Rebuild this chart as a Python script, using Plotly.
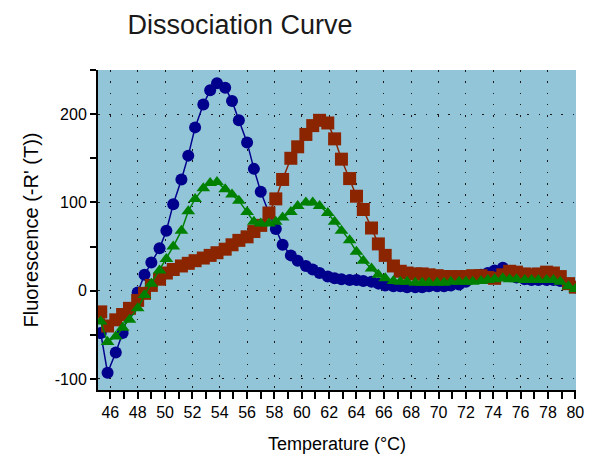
import plotly.graph_objects as go

# Temperature (°C) readings
temps = [45.3, 45.8, 46.4, 46.9, 47.4, 48.0, 48.5, 49.0, 49.6, 50.1,
         50.6, 51.2, 51.7, 52.2, 52.8, 53.3, 53.8, 54.4, 54.9, 55.4,
         56.0, 56.5, 57.0, 57.6, 58.1, 58.6, 59.2, 59.7, 60.3, 60.8,
         61.3, 61.9, 62.4, 62.9, 63.5, 64.0, 64.5, 65.1, 65.6, 66.1,
         66.7, 67.2, 67.7, 68.3, 68.8, 69.3, 69.9, 70.4, 70.9, 71.5,
         72.0, 72.5, 73.1, 73.6, 74.1, 74.7, 75.2, 75.7, 76.3, 76.8,
         77.3, 77.9, 78.4, 78.9, 79.5, 80.0]

blue_vals = [-48, -93, -70, -48, -22, -2, 18, 32, 48, 68,
             98, 126, 153, 185, 211, 227, 235, 230, 215, 193,
             168, 138, 112, 88, 70, 52, 40, 34, 28, 24,
             20, 16, 14, 13, 12, 12, 11, 10, 8, 6,
             5, 5, 4, 4, 4, 5, 5, 5, 6, 7,
             10, 14, 18, 20, 23, 26, 20, 15, 13, 12,
             12, 12, 12, 11, 8, 4]

red_vals = [-24, -40, -33, -27, -20, -11, -3, 6, 13, 20,
            24, 28, 31, 34, 37, 40, 43, 47, 52, 57,
            61, 67, 74, 88, 104, 126, 150, 163, 177, 187,
            193, 190, 172, 149, 127, 107, 92, 71, 53, 40,
            28, 22, 20, 19, 19, 18, 17, 16, 16, 16,
            16, 17, 17, 15, 14, 18, 22, 21, 19, 18,
            19, 21, 20, 16, 8, 4]

green_vals = [-35, -58, -52, -42, -33, -20, -5, 8, 23, 36,
              50, 68, 90, 104, 116, 122, 123, 115, 109, 102,
              89, 78, 76, 76, 78, 83, 89, 96, 100, 100,
              96, 88, 78, 68, 57, 44, 34, 25, 18, 14,
              11, 10, 10, 9, 9, 9, 9, 9, 10, 10,
              10, 10, 11, 12, 13, 14, 13, 13, 12, 12,
              12, 12, 12, 10, 5, 2]

x_ticks = [46, 48, 50, 52, 54, 56, 58, 60, 62, 64, 66, 68, 70, 72, 74, 76, 78, 80]
y_ticks = [-100, 0, 100, 200]

BLUE = "#00008C"
RED = "#8B2500"
GREEN = "#008000"

fig = go.Figure()
fig.add_trace(go.Scatter(x=temps, y=blue_vals, mode="lines+markers",
                         line=dict(color=BLUE, width=1.5),
                         marker=dict(symbol="circle", size=12, color=BLUE),
                         showlegend=False))
fig.add_trace(go.Scatter(x=temps, y=red_vals, mode="lines+markers",
                         line=dict(color=RED, width=1.5),
                         marker=dict(symbol="square", size=13, color=RED),
                         showlegend=False))
fig.add_trace(go.Scatter(x=temps, y=green_vals, mode="lines+markers",
                         line=dict(color=GREEN, width=1.5),
                         marker=dict(symbol="triangle-up", size=12, color=GREEN),
                         showlegend=False))

grid = dict(showgrid=True, gridcolor="#1a1a1a", gridwidth=1.3, griddash="1.5px,9.8px")

fig.update_layout(
    width=594, height=457,
    margin=dict(l=98, r=18, t=70, b=67),
    paper_bgcolor="white",
    plot_bgcolor="#93C5D9",
    font=dict(family="Liberation Sans, Arial, sans-serif", color="black"),
    title=dict(text="Dissociation Curve", x=240/594, xref="container", xanchor="center",
               y=1 - 25/457, yref="container", yanchor="middle",
               font=dict(size=27, color="#1a1a1a")),
    xaxis=dict(range=[45.1, 80.05], tickvals=x_ticks, ticktext=[str(v) for v in x_ticks],
               ticks="outside", ticklen=7, tickwidth=1.5, tickcolor="black",
               showline=True, linecolor="black", linewidth=2, automargin=False,
               minor=dict(dtick=1, tick0=46, ticks="outside", ticklen=7, tickwidth=1.5,
                          tickcolor="black", showgrid=False),
               tickfont=dict(size=16),
               title=dict(text="Temperature (°C)", font=dict(size=18), standoff=17),
               zeroline=False, **grid),
    yaxis=dict(range=[-112.5, 250], tickvals=y_ticks, ticktext=[str(v) for v in y_ticks],
               ticks="outside", ticklen=6, tickwidth=1.5, tickcolor="black",
               showline=True, linecolor="black", linewidth=2, automargin=False,
               minor=dict(dtick=50, tick0=0, ticks="outside", ticklen=6, tickwidth=1.5,
                          tickcolor="black", showgrid=False),
               tickfont=dict(size=16),
               title=dict(text="Fluorescence (-R' (T))", font=dict(size=20), standoff=11),
               zeroline=False, **grid),
)

fig.write_html("out.html")
